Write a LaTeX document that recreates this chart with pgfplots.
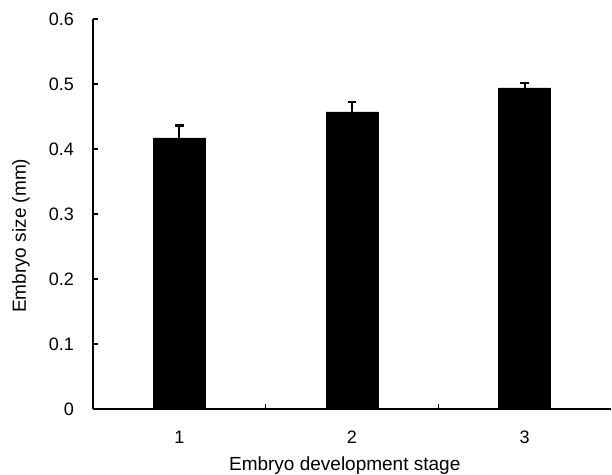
\documentclass[border=0pt]{standalone}
\usepackage{pgfplots}
\pgfplotsset{compat=1.18}
\usepackage{fontspec}
\setmainfont{Liberation Sans}
\begin{document}
\begin{tikzpicture}
\useasboundingbox (-93pt,-65pt) rectangle (519pt,409pt);
\begin{axis}[
  width=518pt, height=390pt, scale only axis,
  xmin=0.5, xmax=3.5, ymin=0, ymax=0.6,
  axis x line*=bottom, axis y line*=left,
  axis line style={line width=2.2pt, -},
  xtick={1.5,2.5}, xticklabels={},
  extra x ticks={1,2,3}, extra x tick labels={1,2,3},
  extra x tick style={major tick length=0pt, tick style={draw=none}},
  major tick length=5pt,
  ytick={0,0.1,0.2,0.3,0.4,0.5,0.6},
  tick align=inside,
  tick style={line width=1.6pt, black},
  /pgf/number format/assume math mode=true,
  yticklabel style={/pgf/number format/fixed, /pgf/number format/precision=1, anchor=east, inner sep=0pt, xshift=-19pt},
  xticklabel style={anchor=north, inner sep=0pt, yshift=-22pt},
  tick label style={font=\fontsize{18}{21}\selectfont},
  xlabel={Embryo development stage},
  ylabel={Embryo size (mm)},
  label style={font=\fontsize{19}{22}\selectfont},
  xlabel style={at={(axis description cs:0.486,-0.146)}, anchor=center},
  ylabel style={at={(axis description cs:-0.139,0.444)}, rotate=0, anchor=center},
  clip=false,
]
\addplot[ybar, bar width=52pt, fill=black, draw=black,
  error bars/.cd, y dir=plus, y explicit,
  error bar style={line width=2pt},
  error mark options={rotate=90, mark size=4.2pt, line width=2.4pt}]
  coordinates {(1,0.417) +- (0,0.019) (2,0.457) +- (0,0.015) (3,0.494) +- (0,0.008)};
\end{axis}
\end{tikzpicture}
\end{document}
